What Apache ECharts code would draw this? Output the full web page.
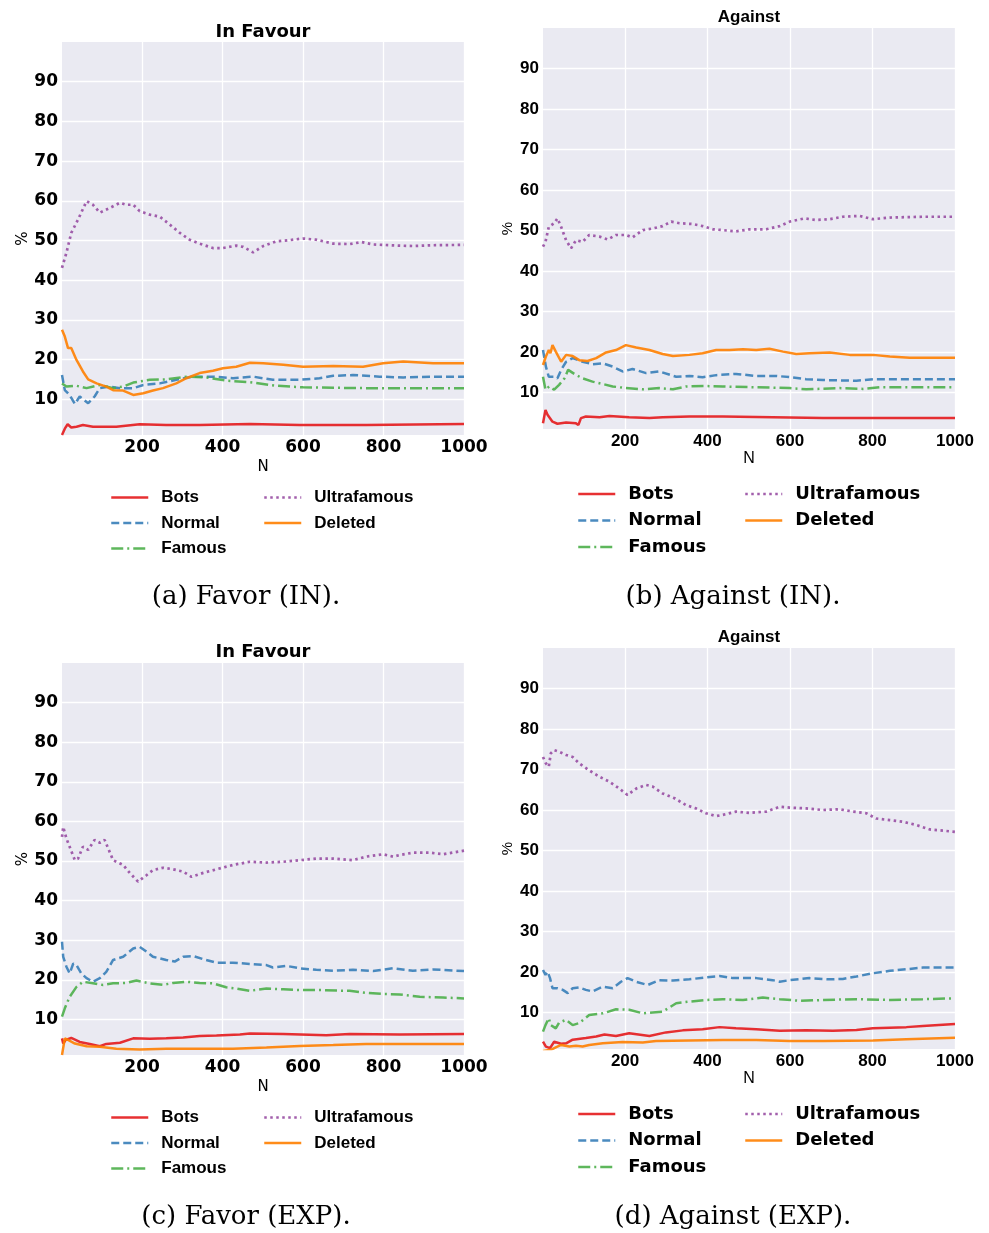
<!DOCTYPE html>
<html>
<head>
<meta charset="utf-8">
<script src="https://cdn.jsdelivr.net/npm/echarts@6/dist/echarts.min.js"></script>
<style>
html,body{margin:0;padding:0;background:#fff;}
#chart{width:989px;height:1233px;}
</style>
</head>
<body>
<div id="chart"></div>
<script>
// ---------------- data (N, % of users) ----------------
const seriesNames = ['Bots', 'Normal', 'Famous', 'Ultrafamous', 'Deleted'];
const xTicks = [200, 400, 600, 800, 1000];
const yTicks = [10, 20, 30, 40, 50, 60, 70, 80, 90];
const panelTitles = ['In Favour', 'Against', 'In Favour', 'Against'];
const captions = ['(a) Favor (IN).', '(b) Against (IN).', '(c) Favor (EXP).', '(d) Against (EXP).'];

// (a) Favor (IN)
const inFavBots = [[1,1.0],[8,2.6],[15,3.7],[24,2.9],[37,3.1],[53,3.5],[78,3.1],[136,3.1],[194,3.7],[260,3.5],[343,3.5],[468,3.8],[592,3.5],[757,3.5],[1000,3.8]];
const inFavNormal = [[1,16.1],[8,12.3],[20,11.1],[33,8.8],[45,10.7],[66,9.0],[82,10.7],[95,12.8],[120,13.2],[145,12.8],[178,12.8],[203,13.6],[244,14.0],[285,14.9],[327,15.7],[376,15.7],[426,15.3],[476,15.7],[525,14.9],[592,14.9],[641,15.3],[675,15.9],[724,16.1],[790,15.7],[849,15.5],[923,15.7],[1000,15.7]];
const inFavFamous = [[1,14.0],[12,13.2],[37,13.4],[62,12.8],[95,13.6],[128,12.8],[153,13.2],[178,14.2],[219,14.9],[260,15.0],[310,15.7],[360,15.5],[409,14.7],[468,14.3],[534,13.4],[600,13.0],[675,12.9],[757,12.8],[840,12.8],[1000,12.8]];
const inFavUltra = [[1,43.1],[12,46.9],[24,51.9],[41,55.3],[62,59.9],[78,59.0],[95,57.0],[120,58.2],[145,59.5],[161,59.0],[178,59.0],[194,57.4],[219,56.5],[244,56.0],[269,54.0],[294,51.9],[318,50.2],[343,49.2],[376,48.1],[401,48.1],[434,48.7],[451,48.4],[476,47.0],[501,48.6],[534,49.8],[567,50.1],[600,50.5],[633,50.2],[675,49.2],[716,49.1],[745,49.6],[774,49.0],[840,48.7],[873,48.6],[923,48.8],[1000,48.9]];
const inFavDeleted = [[1,27.5],[8,25.8],[16,22.9],[24,22.9],[37,19.9],[53,17.0],[66,15.0],[87,14.0],[111,13.2],[128,12.3],[153,12.2],[178,11.1],[203,11.5],[227,12.2],[252,12.8],[285,14.0],[310,15.3],[343,16.6],[376,17.2],[401,17.8],[434,18.2],[468,19.2],[501,19.1],[551,18.7],[600,18.2],[675,18.4],[749,18.2],[799,19.1],[849,19.5],[923,19.1],[1000,19.1]];

// (b) Against (IN)
const inAgBots = [[1,2.4],[7,5.7],[12,4.5],[24,2.8],[36,2.3],[57,2.6],[81,2.4],[87,2.0],[93,3.7],[105,4.1],[138,3.9],[162,4.2],[210,3.9],[259,3.7],[291,3.9],[356,4.1],[437,4.1],[558,3.9],[680,3.7],[842,3.7],[1000,3.7]];
const inAgNormal = [[1,20.5],[8,16.4],[15,13.9],[28,13.9],[36,13.5],[45,15.6],[57,17.6],[73,18.5],[97,17.6],[121,17.0],[146,17.2],[170,16.4],[194,15.2],[218,15.8],[251,14.8],[283,15.2],[324,13.9],[356,14.1],[388,13.8],[421,14.3],[469,14.6],[518,14.1],[567,14.1],[599,13.8],[639,13.3],[680,13.1],[761,12.9],[801,13.3],[882,13.3],[1000,13.3]];
const inAgFamous = [[1,13.9],[7,10.7],[16,11.5],[28,10.7],[40,11.9],[53,13.5],[62,15.6],[77,14.6],[97,13.5],[121,12.7],[146,12.1],[170,11.5],[194,11.2],[243,10.8],[283,11.1],[316,10.8],[348,11.5],[397,11.6],[437,11.5],[518,11.3],[599,11.1],[639,10.8],[720,11.1],[777,10.9],[817,11.3],[1000,11.3]];
const inAgUltra = [[1,46.0],[7,47.2],[15,50.9],[28,51.8],[36,53.0],[45,50.9],[57,47.6],[69,45.6],[81,47.6],[97,47.2],[113,48.9],[138,48.5],[158,47.8],[178,48.9],[202,48.9],[218,48.3],[243,50.1],[267,50.5],[291,51.1],[312,52.2],[332,51.8],[364,51.6],[388,51.1],[413,50.3],[437,50.1],[469,49.8],[502,50.3],[542,50.3],[575,51.1],[599,52.2],[635,53.0],[663,52.6],[696,52.8],[728,53.4],[769,53.6],[801,52.8],[842,53.2],[922,53.4],[1000,53.4]];
const inAgDeleted = [[1,16.8],[8,18.9],[15,20.5],[19,19.7],[24,21.7],[32,20.1],[45,17.6],[57,19.3],[73,19.0],[89,18.0],[109,17.8],[130,18.5],[154,19.9],[178,20.5],[202,21.7],[227,21.1],[259,20.5],[291,19.5],[316,19.0],[356,19.3],[388,19.7],[421,20.5],[453,20.5],[486,20.7],[518,20.5],[550,20.8],[583,20.1],[615,19.5],[647,19.7],[696,19.9],[745,19.3],[801,19.3],[842,18.9],[890,18.6],[1000,18.6]];

// (c) Favor (EXP)
const expFavBots = [[1,5.2],[4,3.9],[10,4.8],[24,5.3],[45,4.3],[70,3.8],[95,3.2],[111,3.8],[145,4.1],[178,5.2],[219,5.1],[260,5.2],[302,5.4],[343,5.8],[385,5.9],[443,6.2],[468,6.4],[551,6.3],[658,6.0],[716,6.3],[840,6.2],[1000,6.3]];
const expFavNormal = [[1,29.6],[4,25.8],[12,23.3],[20,21.6],[29,24.1],[37,23.7],[49,21.6],[62,20.4],[78,19.5],[95,20.4],[111,22.0],[128,25.0],[153,25.8],[178,27.9],[194,28.3],[211,27.1],[227,25.8],[260,25.0],[281,24.6],[302,25.8],[327,26.0],[352,25.2],[385,24.3],[426,24.3],[468,24.0],[509,23.7],[525,23.1],[559,23.5],[592,22.9],[633,22.5],[675,22.3],[724,22.5],[774,22.2],[824,22.9],[873,22.3],[923,22.6],[1000,22.2]];
const expFavFamous = [[1,10.7],[8,12.8],[20,15.7],[37,18.2],[53,19.5],[78,19.1],[103,18.7],[128,19.1],[161,19.2],[186,19.8],[219,19.1],[252,18.7],[277,19.2],[310,19.5],[343,19.2],[376,19.1],[409,18.1],[434,17.8],[468,17.2],[509,17.8],[551,17.6],[592,17.4],[641,17.4],[716,17.2],[757,16.7],[799,16.4],[840,16.3],[890,15.7],[948,15.5],[1000,15.3]];
const expFavUltra = [[1,56.1],[4,58.6],[12,55.7],[20,53.6],[33,50.2],[41,50.6],[53,53.6],[66,52.8],[82,55.3],[95,54.6],[107,55.3],[128,50.2],[153,49.0],[170,46.9],[190,44.8],[211,46.4],[227,47.7],[252,48.3],[277,47.9],[302,47.3],[323,46.0],[352,47.0],[385,47.9],[426,49.0],[468,49.8],[509,49.6],[551,49.8],[592,50.2],[633,50.6],[675,50.6],[724,50.2],[757,51.1],[799,51.7],[824,51.1],[840,51.5],[873,52.1],[915,52.1],[948,51.7],[1000,52.6]];
const expFavDeleted = [[1,1.0],[5,1.4],[8,5.2],[16,4.8],[33,3.9],[62,3.2],[95,3.1],[136,2.6],[194,2.4],[260,2.6],[343,2.6],[426,2.6],[509,2.9],[592,3.3],[675,3.5],[757,3.8],[1000,3.8]];

// (d) Against (EXP)
const expAgBots = [[1,2.8],[8,1.6],[18,1.2],[28,2.8],[45,2.3],[57,2.4],[73,3.3],[105,3.7],[130,4.1],[150,4.6],[178,4.2],[210,4.9],[259,4.2],[299,5.1],[340,5.6],[388,5.9],[429,6.4],[469,6.1],[518,5.9],[575,5.5],[639,5.6],[704,5.5],[761,5.7],[801,6.1],[882,6.4],[922,6.7],[1000,7.2]];
const expAgNormal = [[1,20.5],[7,19.3],[12,20.1],[18,18.5],[24,16.0],[36,16.0],[49,15.6],[61,14.8],[73,16.0],[89,16.2],[105,15.6],[121,15.2],[146,16.4],[170,16.0],[190,17.6],[206,18.5],[227,17.6],[255,16.8],[283,18.0],[316,17.9],[356,18.2],[397,18.7],[429,19.0],[461,18.5],[518,18.5],[558,18.0],[575,17.6],[599,18.0],[647,18.5],[696,18.2],[728,18.3],[761,18.9],[801,19.7],[842,20.3],[882,20.7],[922,21.1],[1000,21.1]];
const expAgFamous = [[1,5.3],[7,6.9],[15,8.6],[20,6.9],[32,6.1],[40,7.5],[57,8.2],[73,6.9],[89,7.4],[113,9.4],[146,9.8],[178,10.8],[210,10.7],[243,9.8],[267,10.0],[291,10.2],[324,12.3],[356,12.7],[397,13.1],[437,13.3],[486,13.1],[534,13.7],[575,13.3],[623,12.9],[680,13.1],[761,13.3],[842,13.1],[922,13.3],[1000,13.5]];
const expAgUltra = [[1,73.1],[8,71.5],[15,70.7],[20,74.0],[28,74.8],[40,74.4],[57,73.6],[73,73.1],[89,71.5],[113,69.8],[138,68.2],[162,67.0],[186,65.3],[206,63.7],[227,65.3],[251,66.2],[267,65.8],[291,64.1],[320,62.9],[348,61.2],[372,60.4],[396,59.2],[421,58.5],[437,58.8],[469,59.6],[502,59.3],[542,59.6],[575,60.8],[599,60.6],[639,60.4],[680,60.0],[720,60.2],[753,59.6],[785,59.2],[809,57.9],[842,57.5],[874,57.1],[906,56.3],[939,55.2],[971,54.9],[1000,54.6]];
const expAgDeleted = [[1,0.5],[20,0.8],[32,1.4],[45,2.0],[65,1.6],[81,1.8],[97,1.6],[113,2.0],[146,2.4],[194,2.7],[243,2.6],[275,3.0],[356,3.1],[437,3.2],[518,3.2],[599,3.0],[680,3.0],[801,3.1],[882,3.4],[1000,3.8]];

const panelData = [
  [inFavBots, inFavNormal, inFavFamous, inFavUltra, inFavDeleted],
  [inAgBots, inAgNormal, inAgFamous, inAgUltra, inAgDeleted],
  [expFavBots, expFavNormal, expFavFamous, expFavUltra, expFavDeleted],
  [expAgBots, expAgNormal, expAgFamous, expAgUltra, expAgDeleted]
];

// ---------------- styling / layout ----------------
const colors = ['#e41a1c', '#377eb8', '#4daf4a', '#984ea3', '#ff7f00'];
const dashes = ['solid', [8, 4], [12, 4, 2, 4], [2.5, 3.5], 'solid'];
const widths = [2.5, 2.5, 2.5, 2.7, 2.5];

const grids = [
  {left: 62, top: 42, width: 402, height: 393},
  {left: 543, top: 28, width: 412, height: 401},
  {left: 62, top: 663, width: 402, height: 392},
  {left: 543, top: 648, width: 412, height: 401}
];
const tickFont = ['DejaVu Sans', 'Liberation Sans', 'DejaVu Sans', 'Liberation Sans'];
const legendFont = ['Liberation Sans', 'DejaVu Sans', 'Liberation Sans', 'DejaVu Sans'];
const legendFontSize = [17, 18, 17, 18];
const titleY = [32, 17, 652, 637];
const captionY = [597, 597, 1217, 1217];
const captionX = [246, 733, 246, 733];
const legendPos = [
  {l1: 110, l2: 263, top: 489, gap: 8.5},
  {l1: 577, l2: 744, top: 485, gap: 8.5},
  {l1: 110, l2: 263, top: 1109, gap: 8.5},
  {l1: 577, l2: 744, top: 1105, gap: 8.5}
];
const yNameGap = [31, 28, 31, 28];
const xNameGap = [25, 21, 25, 21];

const option = {
  animation: false,
  backgroundColor: '#ffffff',
  grid: grids.map(g => Object.assign({show: true, backgroundColor: '#eaeaf2', borderWidth: 0}, g)),
  xAxis: grids.map((g, i) => ({
    type: 'value', gridIndex: i, min: 1, max: 1000,
    name: 'N', nameLocation: 'middle', nameGap: xNameGap[i],
    nameTextStyle: {fontFamily: tickFont[i], fontSize: i % 2 ? 16 : 15, color: '#000'},
    axisLine: {show: false},
    axisTick: {show: false, customValues: xTicks},
    axisLabel: {customValues: xTicks, margin: 4, fontFamily: tickFont[i], fontWeight: 'bold', fontSize: 17, color: '#000',
      formatter: v => String(v)},
    splitLine: {show: true, lineStyle: {color: '#ffffff', width: 1.3}}
  })),
  yAxis: grids.map((g, i) => ({
    type: 'value', gridIndex: i, min: 1, max: 100,
    name: '%', nameLocation: 'middle', nameGap: yNameGap[i], nameRotate: 90,
    nameTextStyle: {fontFamily: tickFont[i], fontSize: 15, color: '#000'},
    axisLine: {show: false},
    axisTick: {show: false, customValues: yTicks},
    axisLabel: {customValues: yTicks, margin: 4, fontFamily: tickFont[i], fontWeight: 'bold', fontSize: 17, color: '#000',
      formatter: v => String(v)},
    splitLine: {show: true, lineStyle: {color: '#ffffff', width: 1.3}}
  })),
  title: [],
  legend: [],
  series: []
};

panelTitles.forEach((t, i) => {
  const g = grids[i];
  option.title.push({
    text: t, left: g.left + g.width / 2, top: titleY[i], padding: 0,
    textAlign: 'center', textVerticalAlign: 'middle',
    textStyle: {fontFamily: tickFont[i], fontWeight: 'bold', fontSize: i % 2 ? 17 : 18, color: '#000'}
  });
  option.title.push({
    text: captions[i], left: captionX[i], top: captionY[i], padding: 0,
    textAlign: 'center', textVerticalAlign: 'middle',
    textStyle: {fontFamily: 'DejaVu Serif', fontWeight: 'normal', fontSize: 26, color: '#000'}
  });
  const lp = legendPos[i];
  const legendBase = {
    orient: 'vertical', top: lp.top, padding: 0, itemWidth: 37, itemHeight: 14,
    itemGap: lp.gap, selectedMode: false,
    itemStyle: {opacity: 0},
    lineStyle: {width: 2.5},
    textStyle: {fontFamily: legendFont[i], fontWeight: 'bold', fontSize: legendFontSize[i], color: '#000',
      padding: [0, 0, 0, 8]}
  };
  option.legend.push(Object.assign({}, legendBase, {left: lp.l1, data: seriesNames.slice(0, 3)}));
  option.legend.push(Object.assign({}, legendBase, {left: lp.l2, data: seriesNames.slice(3)}));

  panelData[i].forEach((d, k) => {
    option.series.push({
      type: 'line', name: seriesNames[k], xAxisIndex: i, yAxisIndex: i,
      data: d, showSymbol: false, symbol: 'none', clip: true,
      color: colors[k],
      lineStyle: {color: colors[k], width: widths[k], type: dashes[k], opacity: 0.9},
      emphasis: {disabled: true}
    });
  });
});

const chart = echarts.init(document.getElementById('chart'), null, {renderer: 'canvas'});
chart.setOption(option);
</script>
</body>
</html>
